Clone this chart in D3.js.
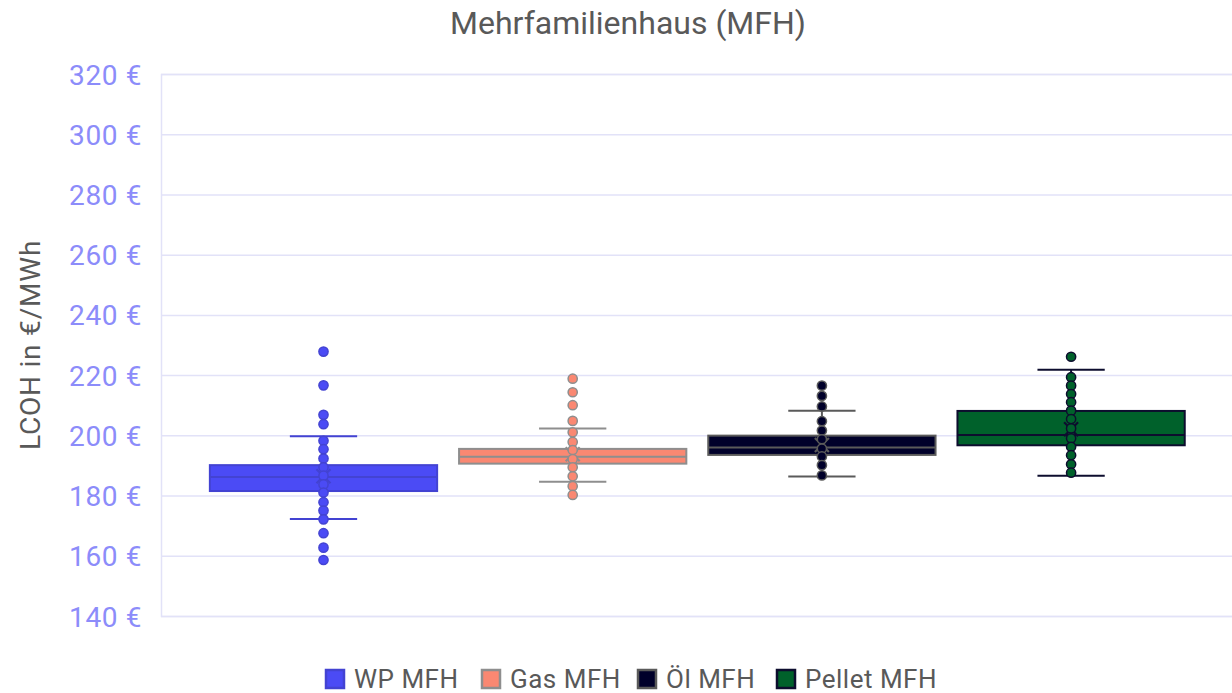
<!DOCTYPE html>
<html><head><meta charset="utf-8">
<script src="https://cdn.jsdelivr.net/npm/d3@7"></script>
<style>body{margin:0;background:#fff}svg{display:block}</style>
</head><body><svg id="c" width="1232" height="693"></svg>
<script>
const categories = ["WP MFH", "Gas MFH", "Öl MFH", "Pellet MFH"];
const fills   = ["#4b4bf5", "#fa8872", "#00002a", "#00612b"];
const strokes = ["#4343d2", "#8e8e8e", "#5a5a5a", "#0d0d2e"];
const q1      = [181.5, 190.6, 193.5, 196.7];
const median  = [186.2, 192.9, 196.0, 200.1];
const q3      = [190.1, 195.5, 199.9, 208.1];
const whiskLo = [172.2, 184.6, 186.3, 186.6];
const whiskHi = [199.7, 202.3, 208.2, 221.8];
const means   = [186.4, 193.7, 196.8, 202.0];
const pointsWP     = [227.8, 216.6, 206.8, 203.7, 198.2, 195.4, 192.3, 189.4, 186.6, 183.7, 181.0, 177.8, 175.0, 172.1, 167.5, 162.7, 158.6];
const pointsGas    = [218.8, 214.3, 210.0, 204.8, 201.0, 197.8, 195.1, 192.1, 189.4, 186.4, 183.1, 180.2];
const pointsOel    = [216.5, 213.1, 209.6, 204.7, 201.6, 198.7, 195.6, 193.0, 190.1, 186.7];
const pointsPellet = [226.1, 219.3, 216.5, 213.7, 211.0, 208.2, 205.4, 202.3, 199.0, 196.2, 193.4, 190.4, 187.6];
const yTicks = [140, 160, 180, 200, 220, 240, 260, 280, 300, 320];
const points = [pointsWP, pointsGas, pointsOel, pointsPellet];

const FONT = "Roboto, 'DejaVu Sans', sans-serif";
const svg = d3.select("#c");
const y = d3.scaleLinear().domain([140, 320]).range([616, 74]);
const x = d3.scaleBand().domain(categories).range([198.9, 1195.7]);
const bw = x.bandwidth();
const boxW = bw * 0.912, capW = bw * 0.27;

// gridlines
const yAxis = d3.axisLeft(y).tickValues(yTicks).tickSize(-(1232 - 161)).tickFormat(d => d + " €");
const ga = svg.append("g").attr("transform", "translate(161,0)").call(yAxis);
ga.select(".domain").attr("stroke", "#e2e2f8").attr("stroke-width", 1.5);
ga.selectAll(".tick line").attr("stroke", "#e2e2f8").attr("stroke-width", 1.5);
ga.selectAll(".tick text").attr("x", -19).attr("dy", "0.36em").attr("fill", "#8c8cfa")
  .style("font-family", FONT).style("font-size", "28px").style("letter-spacing", "0.6px");

// boxes
categories.forEach((c, i) => {
  const cx = x(c) + bw / 2;
  const g = svg.append("g");
  g.append("line").attr("x1", cx).attr("x2", cx).attr("y1", y(whiskHi[i])).attr("y2", y(q3[i]))
    .attr("stroke", strokes[i]).attr("stroke-width", 2);
  g.append("line").attr("x1", cx).attr("x2", cx).attr("y1", y(q1[i])).attr("y2", y(whiskLo[i]))
    .attr("stroke", strokes[i]).attr("stroke-width", 2);
  [whiskHi[i], whiskLo[i]].forEach(v => {
    g.append("line").attr("x1", cx - capW / 2).attr("x2", cx + capW / 2).attr("y1", y(v)).attr("y2", y(v))
      .attr("stroke", strokes[i]).attr("stroke-width", 2);
  });
  g.append("rect").attr("x", cx - boxW / 2).attr("width", boxW)
    .attr("y", y(q3[i])).attr("height", y(q1[i]) - y(q3[i]))
    .attr("fill", fills[i]).attr("stroke", strokes[i]).attr("stroke-width", 2);
  g.append("line").attr("x1", cx - boxW / 2).attr("x2", cx + boxW / 2).attr("y1", y(median[i])).attr("y2", y(median[i]))
    .attr("stroke", strokes[i]).attr("stroke-width", 2);
  const my = y(means[i]), s = 7;
  g.append("path").attr("d", `M${cx - s},${my - s}L${cx + s},${my + s}M${cx - s},${my + s}L${cx + s},${my - s}`)
    .attr("stroke", strokes[i]).attr("stroke-width", 2.2).attr("fill", "none");
  g.selectAll("circle").data(points[i]).join("circle")
    .attr("cx", cx).attr("cy", d => y(d)).attr("r", 4.6)
    .attr("fill", fills[i]).attr("stroke", strokes[i]).attr("stroke-width", 1.5);
});

// title
svg.append("text").attr("x", 628).attr("y", 34).attr("text-anchor", "middle")
  .attr("fill", "#595959").style("font-family", FONT).style("font-size", "32px")
  .text("Mehrfamilienhaus (MFH)");
// y label
svg.append("text").attr("transform", "translate(40,345) rotate(-90)").attr("text-anchor", "middle")
  .attr("fill", "#595959").style("font-family", FONT).style("font-size", "28px").style("letter-spacing", "0.8px")
  .text("LCOH in €/MWh");

// legend
const legX = [326, 482, 638, 777];
categories.forEach((c, i) => {
  const g = svg.append("g").attr("transform", `translate(${legX[i]},670)`);
  g.append("rect").attr("x", 0).attr("y", 0).attr("width", 18).attr("height", 18)
    .attr("fill", fills[i]).attr("stroke", strokes[i]).attr("stroke-width", 2.5);
  g.append("text").attr("x", 28).attr("y", 18).attr("fill", "#595959")
    .style("font-family", FONT).style("font-size", "26px").style("letter-spacing", "0.5px").text(c);
});
</script></body></html>
